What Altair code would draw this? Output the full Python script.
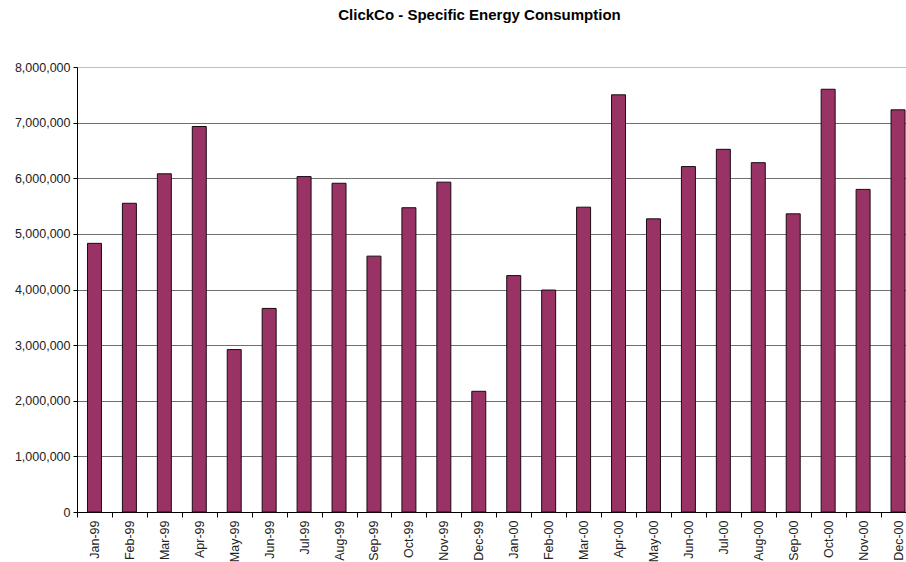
import altair as alt
import pandas as pd

months = ["Jan-99", "Feb-99", "Mar-99", "Apr-99", "May-99", "Jun-99",
          "Jul-99", "Aug-99", "Sep-99", "Oct-99", "Nov-99", "Dec-99",
          "Jan-00", "Feb-00", "Mar-00", "Apr-00", "May-00", "Jun-00",
          "Jul-00", "Aug-00", "Sep-00", "Oct-00", "Nov-00", "Dec-00"]
values = [4830000, 5550000, 6080000, 6930000, 2920000, 3660000,
          6030000, 5910000, 4600000, 5470000, 5930000, 2170000,
          4250000, 3990000, 5480000, 7500000, 5270000, 6210000,
          6520000, 6280000, 5360000, 7600000, 5800000, 7230000]
y_ticks = [0, 1000000, 2000000, 3000000, 4000000, 5000000, 6000000, 7000000, 8000000]

df = pd.DataFrame({"month": months, "value": values})

FONT = "Liberation Sans, Arial, sans-serif"

chart = alt.Chart(df).mark_bar(
    color="#993366", stroke="#1a0a10", strokeWidth=1,
    width=alt.RelativeBandSize(0.4)
).encode(
    x=alt.X("month:N", sort=months, title=None,
            scale=alt.Scale(range=[0, 838.5], paddingInner=0, paddingOuter=0),
            axis=alt.Axis(labelAngle=-90, tickBand="extent", grid=False,
                          domainColor="#000", tickColor="#000", tickSize=5,
                          labelFont=FONT, labelFontSize=12.5, labelColor="#222",
                          labelPadding=3)),
    y=alt.Y("value:Q", title=None,
            scale=alt.Scale(domain=[0, 8000000], nice=False),
            axis=alt.Axis(values=y_ticks, format=",d", grid=True,
                          gridColor={"condition": {"test": "datum.value === 8000000", "value": "#c0c0c0"}, "value": "#707070"},
                          domainColor="#000", tickColor="#000", tickSize=4,
                          labelFont=FONT, labelFontSize=12.5, labelColor="#222",
                          labelPadding=3))
).properties(
    width=829, height=445,
    padding={"left": 77, "top": 67, "right": 0, "bottom": 50},
    autosize=alt.AutoSizeParams(type="none"),
    title=alt.TitleParams("ClickCo - Specific Energy Consumption", font=FONT,
                          fontSize=15, fontWeight="bold", color="#000",
                          anchor="middle", frame="group", baseline="alphabetic",
                          offset=26, dx=-12)
).configure_view(stroke=None).configure(background="white")

chart.save("out.html", embed_options={"renderer": "svg", "actions": False})
